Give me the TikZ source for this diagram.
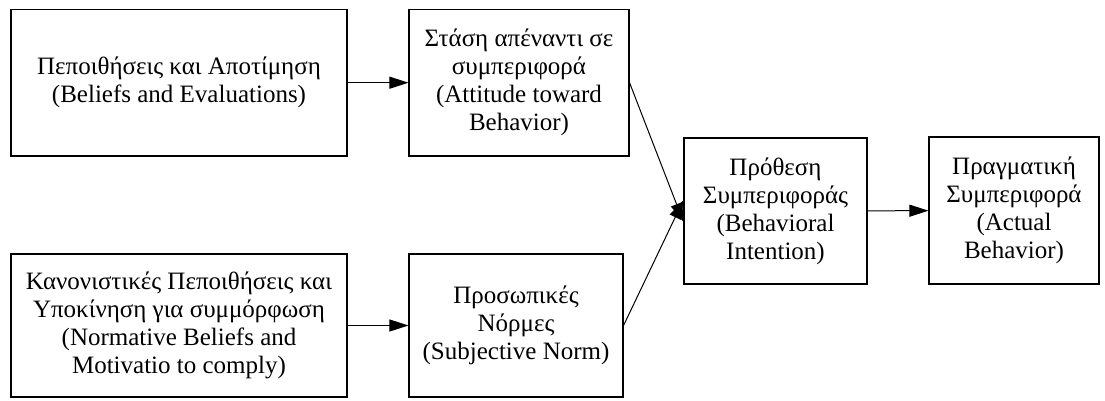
\documentclass[tikz,border=0pt]{standalone}
\usepackage{fontspec}
\setmainfont{Liberation Serif}
\usepackage{tikz}
\usetikzlibrary{arrows.meta}
\tikzset{
    riquadro/.style = {draw, line width = 1.1pt, align = center, inner sep = 0pt,
        font = \fontsize{25}{28}\selectfont},
    freccia/.style = {line width = 1pt, -{Triangle[length = 19pt, width = 12pt]}}
}

\begin{document}
\begin{tikzpicture}[x = 1pt, y = -1pt]
    % Parametri
    \pgfmathsetmacro{\sh}{11}
    % Margini
    \useasboundingbox (0,0) rectangle (1105,401);
    % Punti d'interesse
    \coordinate (c1) at (179,82.7);
    \coordinate (c2) at (519,82.7);
    \coordinate (c3) at (775.5,211);
    \coordinate (c4) at (1014,210.5);
    \coordinate (c5) at (179,325.5);
    \coordinate (c6) at (516,325.5);
    % Riquadri
    \node[riquadro, minimum width = 336pt, minimum height = 146.5pt] (credenze) at (c1)
        {Πεποιθήσεις και Αποτίμηση\\(Beliefs and Evaluations)};
    \node[riquadro, minimum width = 220pt, minimum height = 146.5pt] (atteggiamento) at (c2)
        {Στάση απέναντι σε\\συμπεριφορά\\(Attitude toward\\Behavior)};
    \node[riquadro, minimum width = 183pt, minimum height = 146pt] (intenzione) at (c3)
        {Πρόθεση\\Συμπεριφοράς\\(Behavioral\\Intention)};
    \node[riquadro, minimum width = 170pt, minimum height = 147pt] (comportamento) at (c4)
        {Πραγματική\\Συμπεριφορά\\(Actual\\Behavior)};
    \node[riquadro, minimum width = 336pt, minimum height = 143pt] (credenzeNorm) at (c5)
        {Κανονιστικές Πεποιθήσεις και\\Υποκίνηση για συμμόρφωση\\(Normative Beliefs and\\Motivatio to comply)};
    \node[riquadro, minimum width = 214pt, minimum height = 143pt] (norme) at (c6)
        {Προσωπικές\\Νόρμες\\(Subjective Norm)};
    % Frecce
    \draw[freccia] (credenze) -- (atteggiamento);
    \draw[freccia] (credenzeNorm) -- (norme);
    \draw[freccia] (atteggiamento.east) -- ([yshift = -\sh pt]intenzione.west);
    \draw[freccia] (norme.east) -- ([yshift = \sh pt]intenzione.west);
    \draw[freccia] (intenzione) -- (comportamento);
\end{tikzpicture}
\end{document}
